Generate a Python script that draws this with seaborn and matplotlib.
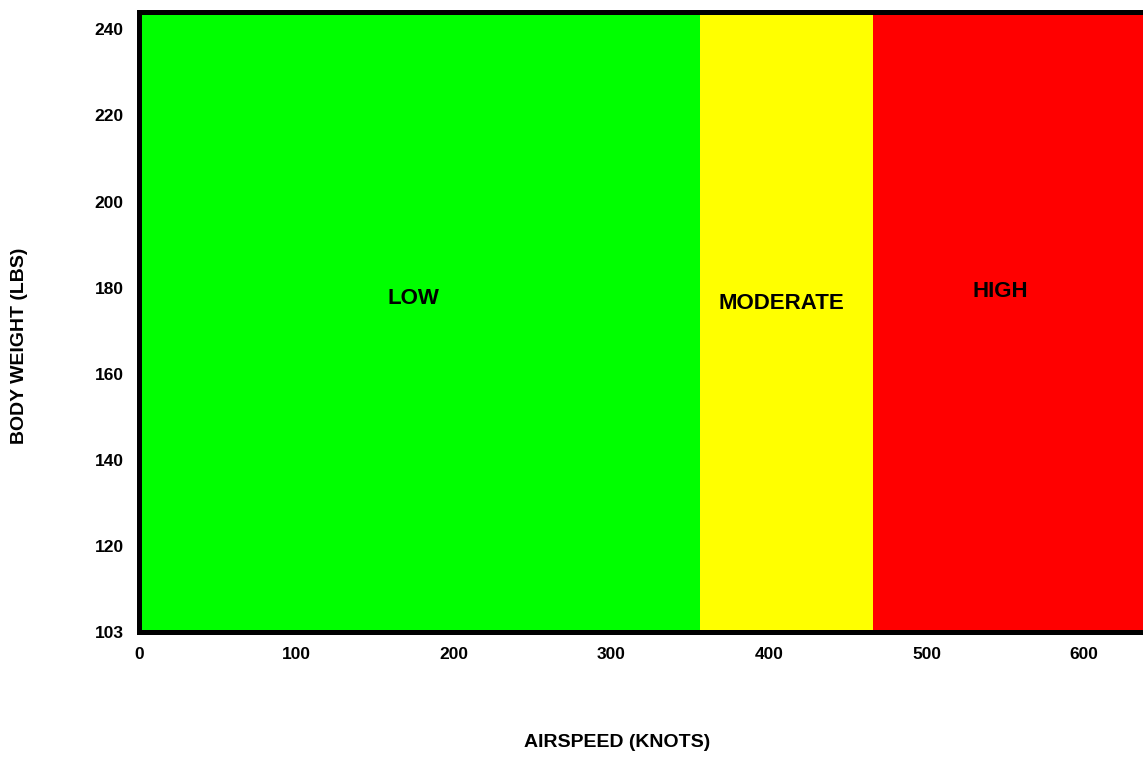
import matplotlib
matplotlib.use("Agg")
import matplotlib.pyplot as plt
import seaborn as sns

# Zonen (Fluggeschwindigkeit in Knoten)
zone_names = ["LOW", "MODERATE", "HIGH"]
zone_starts = [0, 356, 466]
zone_ends = [356, 466, 650]
zone_colors = ["#00ff00", "#ffff00", "#ff0000"]
label_x = [174, 408, 547]
label_y = [177.5, 176.3, 179]

x_ticks = [0, 100, 200, 300, 400, 500, 600]
y_ticks = [100, 120, 140, 160, 180, 200, 220, 240]
y_ticklabels = ["103", "120", "140", "160", "180", "200", "220", "240"]

sns.set_style("white")
plt.rcParams["font.family"] = ["Liberation Sans", "DejaVu Sans"]
plt.rcParams["text.color"] = "black"
plt.rcParams["axes.labelcolor"] = "black"
plt.rcParams["xtick.color"] = "black"
plt.rcParams["ytick.color"] = "black"

fig = plt.figure(figsize=(11.43, 7.61), dpi=100)
ax = fig.add_axes([0.1216, 0.1695, 0.8957, 0.8145])

for s, e, c in zip(zone_starts, zone_ends, zone_colors):
    ax.axvspan(s, e, color=c, lw=0)

for name, x, y in zip(zone_names, label_x, label_y):
    ax.text(x, y, name, ha="center", va="center", fontsize=16, fontweight="bold", color="black")

ax.set_xlim(0, 650)
ax.set_ylim(100, 244)
ax.set_xticks(x_ticks)
ax.set_xticklabels([str(v) for v in x_ticks], fontsize=12.5, fontweight="bold")
ax.set_yticks(y_ticks)
ax.set_yticklabels(y_ticklabels, fontsize=12.5, fontweight="bold")
ax.tick_params(length=0, pad=11)

for sp in ax.spines.values():
    sp.set_color("black")
    sp.set_linewidth(3.6)

ax.set_xlabel("AIRSPEED (KNOTS)", fontsize=14, fontweight="bold")
ax.set_ylabel("BODY WEIGHT (LBS)", fontsize=14, fontweight="bold")
ax.xaxis.set_label_coords(0.467, -0.165)
ax.yaxis.set_label_coords(-0.108, 0.461)

fig.savefig("out.png", dpi=100)
